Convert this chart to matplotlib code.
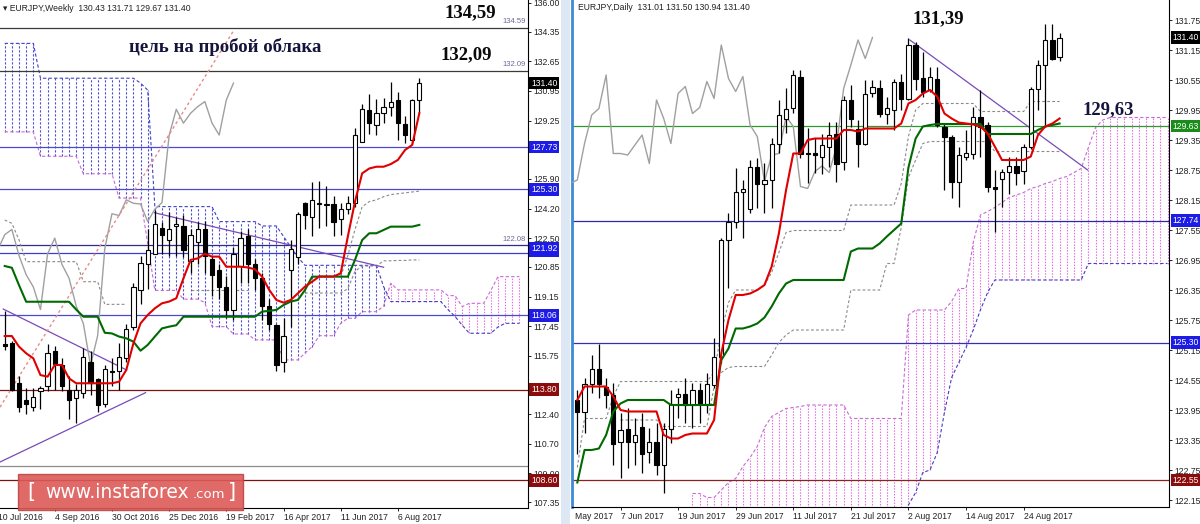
import numpy as np
import matplotlib.pyplot as plt
from matplotlib.patches import Rectangle
from matplotlib.transforms import blended_transform_factory, offset_copy, Bbox, TransformedBbox

plt.rcParams['font.family'] = ['Liberation Sans', 'DejaVu Sans']

# ---------------- weekly EURJPY (left panel) ----------------
w_open = [116.4, 116.5, 114.2, 113.2, 112.8, 113.7, 114.0, 116.0, 115.2, 113.8,
          113.3, 113.6, 115.4, 114.4, 113.0, 114.9, 114.9, 115.6, 117.4, 119.5,
          121.0, 121.6, 123.1, 122.4, 123.2, 123.2, 121.2, 122.3, 123.0, 121.3,
          120.7, 119.7, 118.4, 120.9, 122.6, 121.0, 120.2, 118.6, 117.5, 115.4,
          120.7, 121.4, 124.5, 123.7, 124.45, 124.4, 124.46, 123.6, 124.2, 124.5,
          128.0, 129.86, 129.0, 129.67, 130.05, 130.43, 129.05, 128.13, 130.43]
w_high = [118.3, 116.6, 114.6, 113.9, 113.9, 114.0, 116.4, 116.3, 115.6, 114.6,
          114.1, 116.2, 116.0, 114.5, 115.2, 115.6, 116.5, 117.6, 119.9, 121.5,
          123.0, 124.1, 123.4, 124.0, 123.7, 123.8, 123.0, 123.4, 123.5, 121.5,
          121.0, 120.3, 122.0, 122.9, 123.0, 121.3, 120.5, 119.0, 117.6, 117.9,
          122.4, 124.0, 124.6, 125.7, 125.8, 125.5, 124.9, 124.5, 124.9, 128.8,
          130.2, 130.8, 130.5, 130.53, 131.48, 130.9, 129.5, 130.5, 131.71]
w_low = [116.1, 113.7, 112.5, 112.4, 112.6, 112.7, 113.7, 113.8, 113.7, 112.1,
         111.9, 113.3, 113.5, 112.5, 112.8, 114.0, 113.8, 115.4, 117.2, 118.7,
         119.6, 121.6, 121.6, 121.5, 121.5, 121.4, 120.5, 121.0, 120.5, 119.2,
         119.0, 117.9, 117.8, 119.9, 119.9, 119.5, 117.8, 117.2, 114.85, 114.8,
         117.4, 121.0, 123.0, 122.6, 123.1, 123.2, 122.6, 122.7, 123.9, 124.3,
         128.0, 128.5, 128.4, 129.1, 129.5, 128.13, 127.94, 127.9, 129.67]
w_close = [116.3, 113.8, 112.8, 113.0, 113.4, 113.9, 115.9, 115.3, 114.0, 113.2,
           113.8, 115.7, 114.2, 112.9, 115.0, 114.8, 115.7, 117.3, 119.7, 121.1,
           121.8, 123.3, 122.7, 123.0, 123.3, 121.8, 122.7, 123.0, 121.5, 120.4,
           119.7, 118.4, 121.6, 122.5, 121.0, 120.2, 118.6, 117.6, 115.2, 116.9,
           121.9, 123.9, 123.8, 124.7, 124.5, 124.46, 123.45, 124.16, 124.54, 128.4,
           129.9, 129.1, 129.67, 130.05, 130.34, 129.1, 128.42, 130.43, 131.40]
w_tenkan = [116.88, 116.88, 116.27, 115.89, 115.6, 114.64, 114.55, 115.22, 115.22, 114.45,
            114.17, 114.17, 114.17, 114.17, 114.17, 114.17, 114.26, 114.93, 116.46, 117.61,
            118.09, 118.47, 118.76, 118.86, 119.05, 120.19, 121.25, 121.34, 121.6, 121.44,
            121.44, 120.86, 120.86, 120.86, 120.82, 120.71, 120.29, 119.53, 118.95, 118.8,
            118.95, 119.33, 119.72, 120.0, 120.3, 120.3, 120.3, 120.48, 122.6, 124.6,
            126.22, 126.5, 126.6, 126.6, 126.75, 126.99, 127.56, 127.85, 129.67]
w_kijun = [120.9, 120.8, 119.8, 118.85, 118.85, 118.85, 118.85, 118.85, 118.85, 118.85,
           118.4, 117.99, 117.99, 117.99, 117.07, 117.03, 116.85, 116.75, 116.56, 116.04,
           116.37, 116.85, 117.32, 117.42, 117.5, 117.99, 117.99, 117.99, 117.99, 117.99,
           117.99, 117.99, 117.99, 117.99, 117.99, 117.99, 118.28, 118.33, 118.38, 118.66,
           118.86, 118.95, 119.52, 120.29, 120.29, 120.29, 120.29, 120.29, 120.29, 121.25,
           122.39, 122.78, 122.78, 122.97, 123.16, 123.16, 123.16, 123.16, 123.26]
# cloud (bars 0..72)
w_span1 = [133.68, 133.68, 133.68, 133.68, 133.68,
           131.68, 131.68, 131.68, 131.68, 131.68, 131.68, 131.68, 131.68, 131.68, 131.68,
           131.68, 131.68, 131.68, 131.68, 131.4, 131.0,
           124.31, 124.31, 124.31, 124.31, 124.31, 124.31, 124.31, 124.31, 124.31,
           123.45, 123.45, 123.45, 123.45, 123.45, 123.45, 123.2, 123.2, 123.2,
           122.6, 122.0, 121.4,
           120.94, 120.94, 120.94, 120.94, 120.94, 120.94, 120.94, 120.94, 120.94, 120.94, 120.94,
           119.72, 118.86, 118.86, 118.86, 118.86, 118.86, 118.86, 118.86, 118.86,
           118.4, 118.0, 117.5, 117.04, 117.04, 117.04, 117.04, 117.4, 117.61, 117.61, 117.61]
w_span2 = [128.6, 128.6, 128.6, 128.6, 128.6,
           127.2, 127.2, 127.2, 127.2, 127.2, 127.2,
           126.2, 126.2, 126.2, 126.2, 126.2,
           124.8, 124.8, 124.8, 124.8, 122.2,
           119.5, 119.5, 119.5, 119.5, 119.0, 119.0, 119.0, 118.8,
           117.42, 117.42, 117.42, 117.0, 117.0, 117.0, 116.66, 116.66, 116.66, 116.66,
           115.51, 115.51, 115.51, 115.9, 116.27, 116.9, 116.9, 116.9, 117.61,
           117.9, 117.9, 118.28, 118.28, 118.28, 118.6,
           119.91, 119.53, 119.53, 119.53, 119.53, 119.53, 119.53, 119.53,
           119.2, 119.2, 118.57, 118.76, 118.76, 118.76, 119.5, 120.29, 120.29, 120.29, 120.29]
# dashed helper lines (start bar, values)
w_dashes = [(0, [123.54, 123.35, 122.4, 121.15, 121.15, 121.15, 121.15, 121.15, 121.15, 121.15,
                 121.15, 120.0, 120.0, 120.0, 118.7, 118.7, 118.7, 118.7]),
            (26, [119.5, 119.5, 119.5, 119.5, 119.5, 119.5, 119.5, 119.5, 119.5]),
            (42, [119.35, 119.35, 119.35, 119.35, 119.35, 119.35, 119.6, 120.6, 120.9, 120.9,
                  120.9, 121.2, 121.2, 121.22, 121.22, 121.25, 121.25]),
            (47, [120.3, 121.5, 123.0, 124.3, 124.6, 124.7, 124.88, 125.0, 125.05, 125.1, 125.15, 125.2])]
w_trend = [((-0.2, 118.43), (17.06, 114.93)),
           ((20.95, 123.96), (53.0, 120.83)),
           ((-0.66, 109.65), (19.7, 113.63))]
w_angle = ((-0.66, 112.8), (32.0, 134.4))
w_levels = [134.59, 132.09, 127.73, 125.30, 122.08, 121.62, 118.06, 113.80, 109.40, 108.60]
w_level_colors = ['#3a3a3a', '#3a3a3a', '#4a4ad4', '#4a4ac8', '#2c2c90', '#3c3cd0',
                  '#4a4ad4', '#7a1414', '#8c8c8c', '#7a1414']
w_boxes = [(131.40, '#000000'), (127.73, '#1c1ce6'), (125.30, '#1c1ce6'), (121.80, '#1c1ce6'),
           (121.92, '#1c1ce6'), (118.06, '#1c1ce6'), (113.80, '#8b0c0c'), (108.60, '#8b0c0c')]
w_yticks = [136.00, 134.35, 132.65, 130.95, 129.25, 125.90, 124.20, 122.50, 120.85,
            119.15, 117.45, 115.75, 112.40, 110.70, 109.00, 107.35]
w_xticks = [7, 15, 23, 31, 39, 47, 55]
w_xlabels = ['4 Sep 2016', '30 Oct 2016', '25 Dec 2016', '19 Feb 2017', '16 Apr 2017',
             '11 Jun 2017', '6 Aug 2017']

# ---------------- daily EURJPY (right panel) ----------------
d_open = [124.15, 123.92, 124.48, 124.78, 124.42, 124.25, 123.32, 123.58, 123.32, 123.62,
          123.12, 123.32, 122.85, 123.58, 124.22, 124.28, 124.05, 124.35, 124.08, 124.45,
          125.02, 127.35, 127.72, 128.32, 127.98, 128.82, 128.48, 128.55, 129.28, 129.78,
          130.0, 130.62, 129.1, 129.1, 129.02, 129.22, 129.48, 128.92, 130.15, 129.58,
          129.28, 130.3, 130.4, 129.87, 129.96, 130.52, 130.18, 131.25, 130.58, 130.35,
          130.58, 129.62, 129.42, 128.52, 129.02, 129.08, 129.82, 129.65, 128.42, 128.58,
          128.72, 128.83, 128.74, 129.22, 130.38, 130.85, 131.36, 131.01]
d_high = [124.35, 124.6, 125.05, 125.28, 124.6, 124.5, 123.9, 124.0, 123.8, 123.9,
          123.6, 123.7, 123.7, 124.35, 124.4, 124.6, 124.5, 124.5, 124.7, 125.4,
          127.4, 127.9, 128.8, 128.55, 128.95, 129.0, 128.9, 129.4, 130.15, 130.4,
          130.75, 130.75, 129.6, 129.4, 129.48, 129.72, 129.72, 130.23, 130.45, 129.75,
          130.55, 130.55, 130.55, 130.22, 130.58, 130.68, 131.39, 131.32, 131.12, 130.82,
          130.82, 129.68, 129.45, 129.22, 129.55, 130.02, 130.35, 129.72, 128.75, 128.77,
          129.02, 129.02, 129.28, 130.42, 130.95, 131.68, 131.68, 131.50]
d_low = [123.08, 123.5, 124.3, 124.2, 124.0, 122.85, 122.6, 122.8, 122.85, 122.7,
         122.9, 122.65, 122.3, 123.3, 123.8, 123.7, 123.6, 123.7, 123.9, 124.4,
         124.9, 126.4, 127.6, 127.4, 127.9, 128.0, 127.9, 128.0, 129.1, 129.5,
         129.9, 129.0, 128.5, 128.7, 128.68, 128.82, 128.52, 128.75, 129.62, 128.82,
         129.25, 130.22, 129.82, 129.68, 129.55, 129.95, 130.15, 130.35, 130.22, 130.32,
         129.62, 128.35, 128.2, 128.02, 128.95, 128.98, 129.02, 128.32, 127.52, 128.02,
         128.28, 128.45, 128.48, 129.18, 129.95, 129.62, 130.95, 130.94]
d_close = [123.92, 124.48, 124.78, 124.48, 124.25, 123.28, 123.55, 123.32, 123.45, 123.08,
           123.32, 122.85, 123.58, 124.08, 124.28, 124.05, 124.35, 124.08, 124.48, 125.02,
           127.35, 127.72, 128.32, 128.37, 128.82, 128.48, 128.55, 129.28, 129.85, 129.98,
           130.65, 129.08, 129.08, 129.05, 129.25, 129.45, 128.88, 130.15, 129.78, 129.28,
           130.28, 130.42, 129.88, 130.0, 130.52, 130.18, 131.25, 130.58, 130.32, 130.62,
           129.65, 129.42, 128.52, 129.05, 129.08, 129.82, 129.62, 128.42, 128.38, 128.72,
           128.83, 128.7, 129.22, 130.38, 130.85, 131.35, 130.98, 131.40]
d_tenkan = [124.15, 124.42, 124.42, 124.42, 124.42, 124.22, 123.95, 123.92, 123.92, 123.92,
            123.92, 123.92, 123.45, 123.38, 123.38, 123.45, 123.48, 123.48, 123.48, 123.75,
            125.08, 125.75, 126.25, 126.25, 126.28, 126.35, 126.45, 126.82, 127.48, 128.35,
            129.08, 129.08, 129.35, 129.38, 129.38, 129.38, 129.38, 129.55, 129.55, 129.52,
            129.58, 129.58, 129.58, 129.58, 129.58, 129.68, 130.08, 130.15, 130.28, 130.35,
            130.22, 129.88, 129.78, 129.7, 129.68, 129.66, 129.62, 129.48, 129.22, 128.95,
            128.95, 128.95, 128.95, 129.02, 129.45, 129.62, 129.68, 129.78]
d_kijun = [122.5, 123.15, 123.15, 123.18, 123.45, 123.92, 124.08, 124.15, 124.15, 124.15,
           124.15, 124.15, 124.15, 124.05, 124.05, 124.05, 124.05, 124.05, 124.05, 124.05,
           124.95, 125.18, 125.58, 125.58, 125.62, 125.68, 125.8, 126.02, 126.28, 126.48,
           126.55, 126.55, 126.55, 126.55, 126.55, 126.55, 126.55, 126.55, 127.12, 127.18,
           127.18, 127.18, 127.28, 127.42, 127.55, 127.68, 128.8, 129.38, 129.62, 129.65,
           129.67, 129.67, 129.67, 129.67, 129.67, 129.67, 129.67, 129.47, 129.47, 129.47,
           129.47, 129.47, 129.47, 129.47, 129.55, 129.62, 129.65, 129.68]
d_cloud_start = 16
d_span_a = [121.6, 121.6, 121.6, 121.6, 121.6, 121.6, 121.6, 121.6, 121.6, 121.6,
            121.6, 121.6, 121.6, 121.6, 121.6, 121.6, 121.6, 121.6, 121.6, 121.6,
            121.6, 121.6, 121.6, 121.6, 121.6, 121.6, 121.6, 121.6,
            121.8, 121.9, 122.05, 122.3, 122.7, 122.75, 123.1, 123.9, 124.6, 124.9,
            125.2, 125.55, 125.95, 126.3,
            126.55, 126.55, 126.55, 126.55, 126.55, 126.55, 126.55, 126.55, 126.55, 126.55,
            126.55, 126.55, 126.55,
            126.88, 126.88, 126.88, 126.88, 126.88, 126.88, 126.88, 126.88, 126.88, 126.88,
            126.88, 126.88]
d_span_b = [122.28, 122.28, 122.2, 122.2, 122.35, 122.5, 122.58, 122.82, 123.0, 123.22,
            123.6, 123.82, 123.9, 123.98, 124.0, 124.02, 124.05, 124.05, 124.05, 124.05,
            124.05, 124.05, 123.78, 123.78, 123.78, 123.78, 123.78, 123.78, 123.78, 123.78,
            125.85, 125.95, 125.95, 125.95, 125.95, 125.95, 126.12, 126.38, 126.38, 127.3,
            127.85, 127.92, 128.0, 128.1, 128.2, 128.25, 128.3, 128.38, 128.42, 128.48,
            128.52, 128.58, 128.62, 128.7, 128.78, 129.2, 129.6, 129.75, 129.8, 129.8,
            129.8, 129.8, 129.8, 129.8, 129.8, 129.8, 129.8]
d_dashes = [(0, [122.8, 123.78, 123.78, 123.78, 123.78, 124.22, 124.52, 124.52, 124.52, 124.52,
                 124.52, 124.52, 124.52, 124.52, 124.52, 124.52, 124.52, 124.52, 124.52, 124.7,
                 125.5, 126.1, 126.35, 126.35, 126.35, 126.35, 126.45, 126.7, 127.1, 127.5,
                 127.54, 127.54, 127.54, 127.54, 127.54, 127.54, 127.54, 127.54, 128.05, 128.05,
                 128.05, 128.05, 128.05, 128.05, 128.05, 128.48, 129.42, 129.95, 130.08, 130.08,
                 130.08, 130.08, 130.08, 130.08, 130.08, 130.08, 129.92, 129.92, 129.92, 129.92,
                 129.92, 129.92, 129.92, 130.12, 130.12, 130.12, 130.12, 130.12]),
            (6, [123.75, 123.75, 123.75, 123.75, 123.75, 123.75,
                 123.62, 123.62, 123.62, 123.62, 123.62, 123.62, 123.62,
                 124.42, 124.7, 124.8, 124.82, 124.82, 124.82, 124.82, 124.82,
                 125.05, 125.3, 125.45,
                 125.55, 125.55, 125.55, 125.55, 125.55, 125.55, 125.55, 125.55,
                 126.35, 126.35, 126.35, 126.35, 126.35, 126.88, 126.88,
                 127.6, 128.6, 128.95, 129.28,
                 129.32, 129.32, 129.32, 129.32, 129.32, 129.32, 129.32, 129.32, 129.32,
                 129.12, 129.12, 129.12, 129.12, 129.12, 129.12, 129.12, 129.12, 129.12, 129.12])]
d_trend = [((46.2, 131.35), (70.9, 128.75))]
d_levels = [129.63, 127.74, 125.30, 122.55]
d_level_colors = ['#2e9a2e', '#2a2aa8', '#3030b8', '#8b2222']
d_boxes = [(131.40, '#000000'), (129.63, '#1a8c1a'), (127.74, '#1c1ce6'),
           (125.30, '#1c1ce6'), (122.55, '#8b0c0c')]
d_yticks = [131.75, 131.15, 130.55, 129.95, 129.35, 128.75, 128.15, 127.55, 126.95, 126.35,
            125.75, 125.15, 124.55, 123.95, 123.35, 122.75, 122.15]
d_xticks = [6, 14, 22, 30, 38, 46, 54, 62]
d_xlabels = ['7 Jun 2017', '19 Jun 2017', '29 Jun 2017', '11 Jul 2017', '21 Jul 2017',
             '2 Aug 2017', '14 Aug 2017', '24 Aug 2017']

SHIFT = 26
W, H = 1200, 524
FS = 6.2


def draw_candles(ax, o, h, l, c):
    o, h, l, c = map(np.asarray, (o, h, l, c))
    x = np.arange(len(o))
    ax.vlines(x, l, h, color='black', lw=0.9, zorder=4)
    up = c >= o
    ax.bar(x[up], (c - o)[up], bottom=o[up], width=0.6, color='white',
           edgecolor='black', linewidth=0.8, zorder=5)
    ax.bar(x[~up], (o - c)[~up], bottom=c[~up], width=0.6, color='black',
           edgecolor='black', linewidth=0.8, zorder=5)


def draw_cloud(ax, start, s1, s2):
    s1, s2 = np.asarray(s1), np.asarray(s2)
    x = np.arange(len(s1)) + start
    lo, hi = np.minimum(s1, s2), np.maximum(s1, s2)
    blue = s1 > s2
    ax.vlines(x[blue], lo[blue], hi[blue], colors='#4c4cd6', linestyles=(0, (2, 1.6)),
              lw=0.8, zorder=1)
    ax.vlines(x[~blue], lo[~blue], hi[~blue], colors='#e36ee3', linestyles=(0, (1.3, 1.3)),
              lw=0.8, zorder=1)
    ax.plot(x, s1, color='#4040c4', ls=(0, (3, 2)), lw=0.8, zorder=1)
    ax.plot(x, s2, color='#c86ad4', ls=(0, (3, 2)), lw=0.8, zorder=1)


def setup(ax, yticks, xticks, xlabels):
    ax.yaxis.tick_right()
    ax.set_yticks(yticks)
    ax.set_yticklabels([f'{v:.2f}' for v in yticks])
    ax.set_xticks(xticks)
    ax.set_xticklabels(xlabels, ha='left')
    ax.tick_params(axis='both', length=2.5, width=0.7, labelsize=FS, colors='#222222', pad=1.2)
    ax.spines['top'].set_visible(False)
    ax.spines['left'].set_visible(False)
    for s in ('right', 'bottom'):
        ax.spines[s].set_color('black')
        ax.spines[s].set_linewidth(0.8)


def boxes(ax, items):
    tr = blended_transform_factory(ax.transAxes, ax.transData)
    for v, col in items:
        ax.text(1.006, v, f'{v:.2f}', transform=tr, ha='left', va='center', color='white',
                fontsize=FS, clip_on=False, zorder=20,
                bbox=dict(boxstyle='square,pad=0.22', fc=col, ec='none'))


def panel(ax, o, h, l, c, tenkan, kijun, cloud, dashes, trends, levels, lcolors):
    for v, col in zip(levels, lcolors):
        ax.axhline(v, color=col, lw=0.9, zorder=2)
    draw_cloud(ax, *cloud)
    for start, vals in dashes:
        ax.plot(np.arange(len(vals)) + start, vals, color='#8a8a8a', ls=(0, (2.5, 2)),
                lw=0.8, zorder=2)
    for (x0, y0), (x1, y1) in trends:
        ax.plot([x0, x1], [y0, y1], color='#7a4ab8', lw=0.9, zorder=3)
    ax.plot(np.arange(len(c)) - SHIFT, c, color='#a0a0a0', lw=1.0, zorder=3)
    draw_candles(ax, o, h, l, c)
    ax.plot(np.arange(len(kijun)), kijun, color='#006a00', lw=1.5, zorder=6)
    ax.plot(np.arange(len(tenkan)), tenkan, color='#e00000', lw=1.5, zorder=6)


fig = plt.figure(figsize=(12, 5.24), dpi=100)
fig.patch.set_facecolor('white')
ax1 = fig.add_axes([0, (H - 508) / H, 528 / W, 508 / H])
ax2 = fig.add_axes([572 / W, (H - 507) / H, (1169 - 572) / W, 507 / H])

# ---- left ----
panel(ax1, w_open, w_high, w_low, w_close, w_tenkan, w_kijun, (0, w_span1, w_span2),
      w_dashes, w_trend, w_levels, w_level_colors)
(ax0x, ax0y), (ax1x, ax1y) = w_angle
ax1.plot([ax0x, ax1x], [ax0y, ax1y], color='#e88a8a', ls=(0, (2, 2)), lw=1.0, zorder=3)
ax1.set_xlim(-0.66, 73.2)
ax1.set_ylim(107.01, 136.17)
setup(ax1, w_yticks, w_xticks, w_xlabels)
boxes(ax1, w_boxes)
tr1 = blended_transform_factory(ax1.transAxes, ax1.transData)
for v in (134.59, 132.09, 122.08):
    ax1.text(0.995, v + 0.15, f'{v:.2f}', transform=tr1, ha='right', va='bottom',
             fontsize=5.5, color='#6a6a9a')
ax1.text(0.006, 0.992, '\u25be EURJPY,Weekly  ' + ' '.join(f'{v:.2f}' for v in
         (w_open[-1], w_high[-1], w_low[-1], w_close[-1])),
         transform=ax1.transAxes, fontsize=FS, va='top', color='#222222')
serif = dict(family='Liberation Serif', weight='bold', fontsize=13.5, ha='center', va='center')
ax1.text(65.1, 135.43, '134,59', color='#0a0a0a', **serif)
ax1.text(64.5, 133.01, '132,09', color='#0a0a0a', **serif)
ax1.text(30.8, 133.47, 'цель на пробой облака', color='#14143c', **serif)
tl = blended_transform_factory(ax1.transData, ax1.transAxes)
ax1.text(-1, 0, '10 Jul 2016', transform=offset_copy(tl, fig=fig, y=-3.7, units='points'),
         ha='left', va='top', fontsize=FS, color='#222222')

# ---- right ----
panel(ax2, d_open, d_high, d_low, d_close, d_tenkan, d_kijun, (d_cloud_start, d_span_a, d_span_b),
      d_dashes, d_trend, d_levels, d_level_colors)
ax2.set_xlim(-0.74, 82.2)
ax2.set_ylim(122.01, 132.15)
setup(ax2, d_yticks, d_xticks, d_xlabels)
ax2.spines['left'].set_visible(True)
ax2.spines['left'].set_color('#3d8ad6')
ax2.spines['left'].set_linewidth(2)
boxes(ax2, d_boxes)
ax2.text(0.01, 0.995, 'EURJPY,Daily  ' + ' '.join(f'{v:.2f}' for v in
         (d_open[-1], d_high[-1], d_low[-1], d_close[-1])),
         transform=ax2.transAxes, fontsize=FS, va='top', color='#222222')
ax2.text(50.2, 131.77, '131,39', color='#0a0a0a', **serif)
ax2.text(73.8, 129.95, '129,63', color='#14143c', **serif)
tr2 = blended_transform_factory(ax2.transData, ax2.transAxes)
t = ax2.text(-2, 0, '26 May 2017', transform=offset_copy(tr2, fig=fig, y=-3.7, units='points'),
             ha='left', va='top', fontsize=FS, color='#222222')
t.set_clip_path(None)
t.set_clip_box(TransformedBbox(Bbox.from_extents(573 / W, 0, 1, 1), fig.transFigure))
t.set_clip_on(True)

# window separator
fig.add_artist(Rectangle((561 / W, 0), 9 / W, 1, transform=fig.transFigure,
                         fc='#dde8f4', ec='none', zorder=0))

# watermark
fig.add_artist(Rectangle((18 / W, 1 - 510 / H), 225 / W, 36 / H, transform=fig.transFigure,
                         fc='#dc5a56', ec='#c04444', alpha=0.9, zorder=30))
wy = 1 - 492 / H
fig.text(27 / W, wy, '[', color='white', fontsize=15, family='DejaVu Sans', va='center', zorder=31)
fig.text(45 / W, wy, 'www.instaforex', color='white', fontsize=13.5, family='DejaVu Sans',
         va='center', zorder=31)
fig.text(193 / W, wy - 0.004, '.com', color='white', fontsize=9.5, family='DejaVu Sans',
         va='center', zorder=31)
fig.text(228 / W, wy, ']', color='white', fontsize=15, family='DejaVu Sans', va='center', zorder=31)

fig.savefig('out.png', dpi=100)
